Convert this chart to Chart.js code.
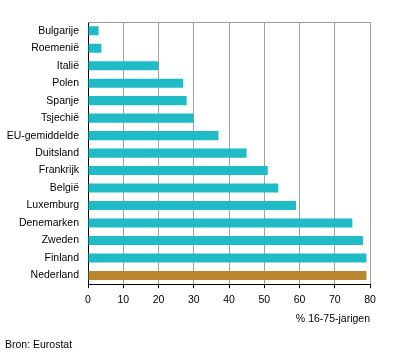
<!DOCTYPE html>
<html>
<head>
<meta charset="utf-8">
<script src="https://cdn.jsdelivr.net/npm/chart.js@4"></script>
<style>
html,body{margin:0;padding:0;background:#fff;}
#wrap{width:396px;height:358px;position:relative;}
</style>
</head>
<body>
<div id="wrap"><canvas id="c" width="396" height="358"></canvas></div>
<script>
const categories = ["Bulgarije","Roemenië","Italië","Polen","Spanje","Tsjechië","EU-gemiddelde","Duitsland","Frankrijk","België","Luxemburg","Denemarken","Zweden","Finland","Nederland"];
const values = [3, 3.8, 20, 27, 28, 30, 37, 45, 51, 54, 59, 75, 78, 79, 79];
const highlight = "Nederland";
const xTicks = [0,10,20,30,40,50,60,70,80];
const axisTitle = "% 16-75-jarigen";
const source = "Bron: Eurostat";

const TEAL = "#1fbcc7";
const BROWN = "#b8862f";
const FONT = "'Liberation Sans', Arial, sans-serif";

const topLine = {
  id: 'topLine',
  afterDraw(chart) {
    const {ctx, chartArea} = chart;
    ctx.save();
    ctx.strokeStyle = '#999';
    ctx.lineWidth = 1;
    ctx.beginPath();
    ctx.moveTo(chartArea.left, Math.round(chartArea.top) + 0.5);
    ctx.lineTo(chartArea.right, Math.round(chartArea.top) + 0.5);
    ctx.stroke();
    ctx.restore();
  }
};

new Chart(document.getElementById('c'), {
  type: 'bar',
  data: {
    labels: categories,
    datasets: [{
      data: values,
      backgroundColor: categories.map(c => c === highlight ? BROWN : TEAL),
      borderWidth: 0,
      barPercentage: 0.52,
      categoryPercentage: 1
    }]
  },
  options: {
    indexAxis: 'y',
    responsive: false,
    animation: false,
    devicePixelRatio: 1,
    layout: { padding: { top: 22, right: 26, left: 5, bottom: 7 } },
    plugins: {
      legend: { display: false },
      tooltip: { enabled: false },
      title: {
        display: true,
        text: source,
        position: 'bottom',
        align: 'start',
        color: '#000',
        font: { family: FONT, size: 10.5, weight: 'normal' },
        padding: { top: 13, bottom: 0 }
      }
    },
    scales: {
      x: {
        min: 0, max: 80,
        afterBuildTicks(scale) { scale.ticks = xTicks.map(v => ({value: v})); },
        grid: { color: '#a0a0a0', tickColor: '#000', tickLength: 4, drawTicks: true },
        border: { color: '#000', width: 1 },
        ticks: { color: '#000', font: { family: FONT, size: 10.5 }, padding: 6, maxRotation: 0, autoSkip: false },
        title: { display: true, text: axisTitle, align: 'end', color: '#000', font: { family: FONT, size: 10.5 }, padding: { top: 0, bottom: 0 } }
      },
      y: {
        afterFit(scale) { scale.width = 83; },
        grid: { display: false, drawTicks: false },
        border: { display: true, color: '#000', width: 1 },
        ticks: { color: '#000', font: { family: FONT, size: 10.5 }, padding: 9, autoSkip: false }
      }
    }
  },
  plugins: [topLine]
});
</script>
</body>
</html>
